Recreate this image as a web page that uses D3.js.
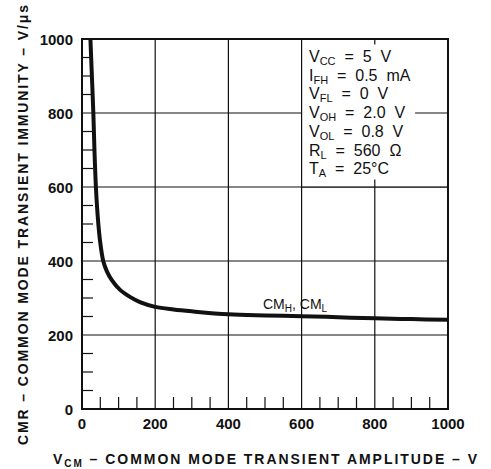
<!DOCTYPE html>
<html>
<head>
<meta charset="utf-8">
<script src="https://cdn.jsdelivr.net/npm/d3@7"></script>
<style>
  body { margin: 0; background: #fff; }
  text { font-family: "Liberation Sans", Arial, Helvetica, sans-serif; fill: #111; }
</style>
</head>
<body>
<svg id="chart" width="491" height="469"></svg>
<script>
// curve (V, V/us)
var vcm = [23, 27, 31, 34, 38, 43, 49, 58, 68, 81, 104, 131, 160, 200, 250, 300, 400, 500, 600, 700, 800, 900, 1000];
var cmr = [1000, 900, 800, 700, 600, 520, 457, 400, 372, 349, 322, 303, 288, 276, 269, 264, 256, 253, 251, 248, 245, 243, 241];

var xTicks = [0, 200, 400, 600, 800, 1000];
var yTicks = [0, 200, 400, 600, 800, 1000];
var minorTicks = d3.range(50, 1000, 50).filter(function (d) { return d % 200 != 0; });

var sp = "\u00A0\u00A0";
var legendLines = [
  ["V", "CC", sp + "=" + sp + "5" + sp + "V"],
  ["I", "FH", sp + "=" + sp + "0.5" + sp + "mA"],
  ["V", "FL", sp + "=" + sp + "0" + sp + "V"],
  ["V", "OH", sp + "=" + sp + "2.0" + sp + "V"],
  ["V", "OL", sp + "=" + sp + "0.8" + sp + "V"],
  ["R", "L", sp + "=" + sp + "560" + sp + "\u03A9"],
  ["T", "A", sp + "=" + sp + "25\u00B0C"]
];

var svg = d3.select("#chart");
var x = d3.scaleLinear().domain([0, 1000]).range([82, 448]);
var y = d3.scaleLinear().domain([0, 1000]).range([409, 39]);

// grid
var grid = svg.append("g").attr("stroke", "#111").attr("stroke-width", 1.2);
grid.selectAll("line.gx").data(xTicks.slice(1, -1)).enter().append("line")
  .attr("x1", function (d) { return x(d); }).attr("x2", function (d) { return x(d); })
  .attr("y1", y(0)).attr("y2", y(1000));
grid.selectAll("line.gy").data(yTicks.slice(1, -1)).enter().append("line")
  .attr("y1", function (d) { return y(d); }).attr("y2", function (d) { return y(d); })
  .attr("x1", x(0)).attr("x2", x(1000));

// minor ticks
grid.selectAll("line.mx").data(minorTicks).enter().append("line")
  .attr("x1", function (d) { return x(d); }).attr("x2", function (d) { return x(d); })
  .attr("y1", y(0)).attr("y2", y(0) - 12);
grid.selectAll("line.my").data(minorTicks).enter().append("line")
  .attr("y1", function (d) { return y(d); }).attr("y2", function (d) { return y(d); })
  .attr("x1", x(0)).attr("x2", x(0) + 11);

// legend box hides the grid behind it
svg.append("rect")
  .attr("x", x(600)).attr("y", y(1000))
  .attr("width", x(1000) - x(600)).attr("height", y(600) - y(1000))
  .attr("fill", "#fff").attr("stroke", "#111").attr("stroke-width", 1.2);
grid = svg.append("g").attr("stroke", "#111").attr("stroke-width", 1.2);
grid.append("line").attr("x1", x(910)).attr("x2", x(1000)).attr("y1", y(800)).attr("y2", y(800));
grid.append("line").attr("x1", x(800)).attr("x2", x(800)).attr("y1", y(1000)).attr("y2", y(985));
grid.append("line").attr("x1", x(800)).attr("x2", x(800)).attr("y1", y(620)).attr("y2", y(600));

// frame
svg.append("rect")
  .attr("x", x(0)).attr("y", y(1000))
  .attr("width", x(1000) - x(0)).attr("height", y(0) - y(1000))
  .attr("fill", "none").attr("stroke", "#111").attr("stroke-width", 2);

// curve
var line = d3.line()
  .x(function (d, i) { return x(vcm[i]); })
  .y(function (d) { return y(d); })
  .curve(d3.curveCatmullRom.alpha(0.5));
svg.append("path").datum(cmr)
  .attr("d", line)
  .attr("fill", "none").attr("stroke", "#111").attr("stroke-width", 4)
  .attr("stroke-linejoin", "round");

// tick labels
svg.selectAll("text.xt").data(xTicks).enter().append("text")
  .attr("x", function (d) { return x(d); }).attr("y", 429)
  .attr("text-anchor", "middle").attr("font-size", 15).attr("font-weight", "bold")
  .text(function (d) { return d; });
svg.selectAll("text.yt").data(yTicks).enter().append("text")
  .attr("x", 73).attr("y", function (d) { return y(d) + 5.5; })
  .attr("text-anchor", "end").attr("font-size", 15).attr("font-weight", "bold")
  .text(function (d) { return d; });

// legend text
var leg = svg.append("g").attr("font-size", 16);
legendLines.forEach(function (l, i) {
  var t = leg.append("text").attr("x", 309).attr("y", 62 + i * 18.7);
  t.append("tspan").text(l[0]);
  t.append("tspan").attr("font-size", 11).attr("dy", 3).text(l[1]);
  t.append("tspan").attr("dy", -3).text(l[2]);
});

// curve label
var cl = svg.append("text").attr("x", 263).attr("y", 309).attr("font-size", 14);
cl.append("tspan").text("CM");
cl.append("tspan").attr("font-size", 10).attr("dy", 3).text("H");
cl.append("tspan").attr("dy", -3).text(",\u00A0CM");
cl.append("tspan").attr("font-size", 10).attr("dy", 3).text("L");

// axis titles
var xt = svg.append("text").attr("x", 53).attr("y", 464)
  .attr("font-size", 14).attr("font-weight", "bold")
  .attr("textLength", 424).attr("lengthAdjust", "spacing");
xt.append("tspan").text("V");
xt.append("tspan").attr("font-size", 10).attr("dy", 3).text("CM");
xt.append("tspan").attr("dy", -3).text("\u00A0\u2013 COMMON MODE TRANSIENT AMPLITUDE \u2013 V");

svg.append("text")
  .attr("transform", "translate(28,445) rotate(-90)")
  .attr("font-size", 14).attr("font-weight", "bold")
  .attr("textLength", 440).attr("lengthAdjust", "spacing")
  .text("CMR \u2013 COMMON MODE TRANSIENT IMMUNITY \u2013 V/\u03BCs");
</script>
</body>
</html>
